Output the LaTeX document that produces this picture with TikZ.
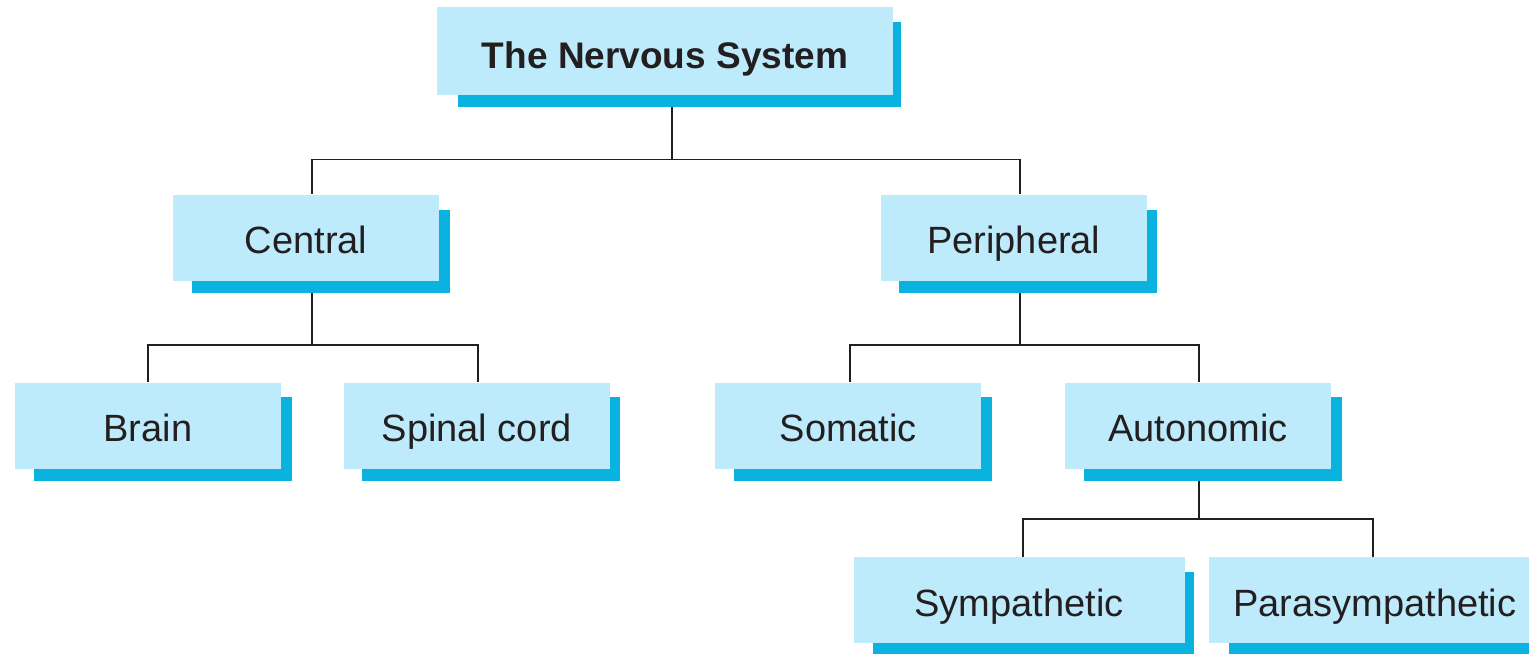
\documentclass[tikz,border=0pt]{standalone}
\usepackage{fontspec}
\setmainfont{Liberation Sans}
\usetikzlibrary{positioning, shadows, backgrounds}
\definecolor{boxblue}{HTML}{BEEBFC}
\definecolor{shadeblue}{HTML}{0AB2E0}
\definecolor{inkgray}{HTML}{231F20}
\tikzset{%
  node distance=50pt, % gap between the levels of the tree
  part/.style={%
    fill=boxblue, text=inkgray, inner sep=0pt,
    minimum width=133pt, minimum height=43pt,
    text height=16pt, text depth=0pt, % keeps all baselines level
    font=\fontsize{19}{23}\selectfont,
    general shadow={fill=shadeblue, shadow xshift=7.5pt, shadow yshift=-7pt, shadow scale=0.97}
  },
  wide part/.style={part, minimum width=165.5pt}, % the two boxes of the last level
  top part/.style={part, minimum width=228pt, minimum height=44pt, text height=17pt,
    font=\bfseries\fontsize{18.5}{22}\selectfont},
  branch/.style={draw=inkgray, line width=0.9pt}
}

\begin{document}
\begin{tikzpicture}
    \useasboundingbox (0,0) rectangle (764.5pt,-326.5pt);
    \node[top part] (ns) at (332.5pt,-25.5pt) {The Nervous System};
    \node[part, below=49.5pt of ns, xshift=-179.5pt] (cen) {Central};
    \node[part, right=220.5pt of cen] (per) {Peripheral};
    \node[part, below=50.5pt of cen, xshift=-79pt] (brain) {Brain};
    \node[part, right=31pt of brain] (spinal) {Spinal cord};
    \node[part, below=50.5pt of per, xshift=-82.75pt] (somatic) {Somatic};
    \node[part, right=41.5pt of somatic] (auto) {Autonomic};
    \node[wide part, below=44pt of auto, xshift=-89.5pt] (symp) {Sympathetic};
    \node[wide part, right=12pt of symp] (para) {Parasympathetic};
    % connectors go behind the shadows
    \begin{scope}[on background layer]
        \draw[branch] ([xshift=3.5pt]ns.south) -- ++(0,-32pt) -| ([xshift=3pt]cen.north);
        \draw[branch] ([xshift=3.5pt]ns.south) -- ++(0,-32pt) -| ([xshift=3pt]per.north);
        \draw[branch] ([xshift=3pt]cen.south) -- ++(0,-32pt) -| (brain.north);
        \draw[branch] ([xshift=3pt]cen.south) -- ++(0,-32pt) -| ([xshift=0.75pt]spinal.north);
        \draw[branch] ([xshift=3pt]per.south) -- ++(0,-32pt) -| ([xshift=0.75pt]somatic.north);
        \draw[branch] ([xshift=3pt]per.south) -- ++(0,-32pt) -| ([xshift=0.25pt]auto.north);
        \draw[branch] ([xshift=0.25pt]auto.south) -- ++(0,-25pt) -| ([xshift=1.75pt]symp.north);
        \draw[branch] ([xshift=0.25pt]auto.south) -- ++(0,-25pt) -| ([xshift=-1pt]para.north);
    \end{scope}
\end{tikzpicture}
\end{document}
